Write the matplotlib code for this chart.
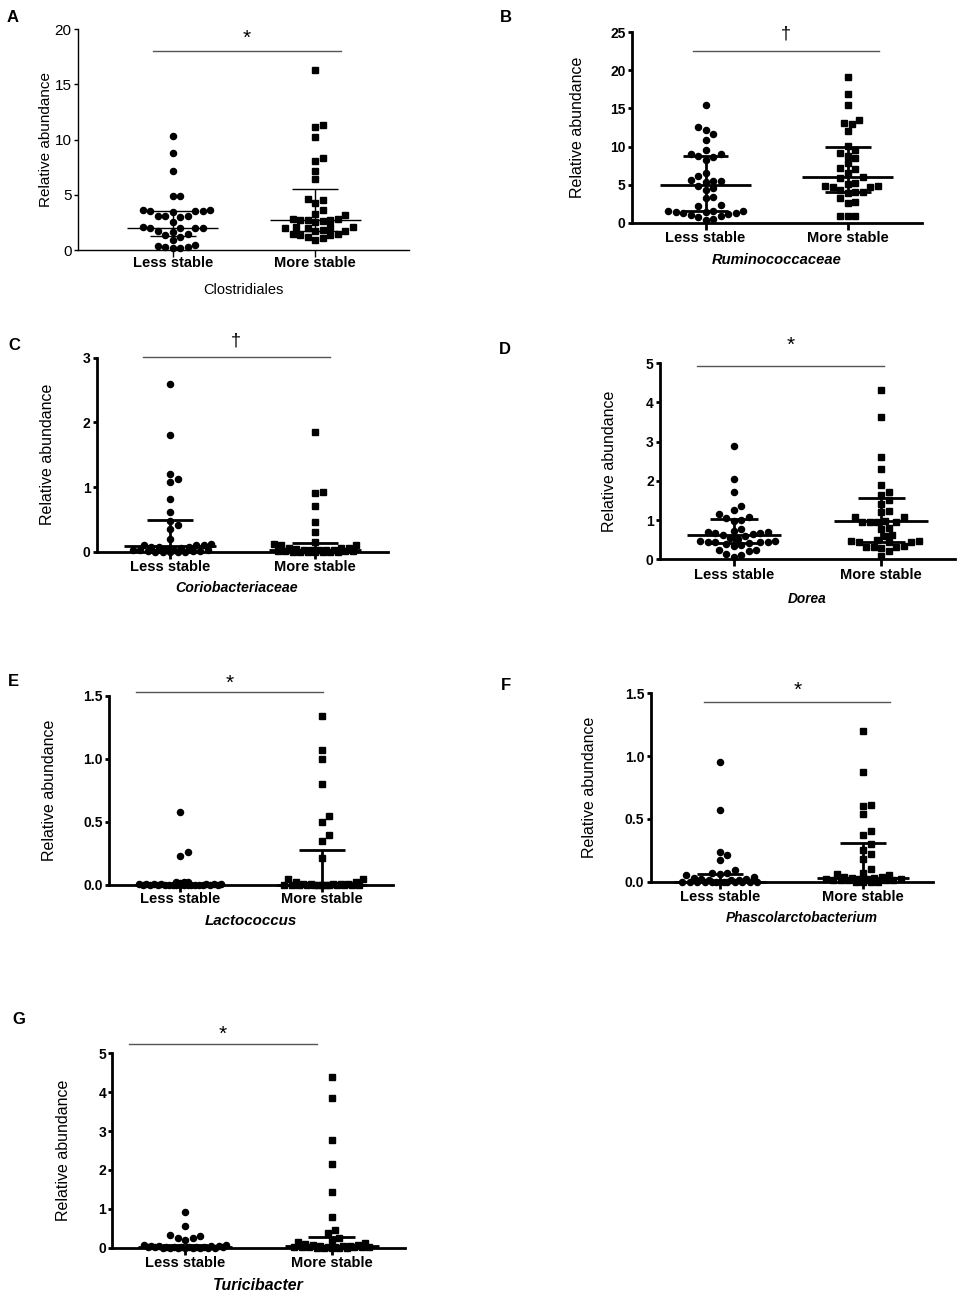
import numpy as np
import matplotlib.pyplot as plt
from matplotlib.ticker import FormatStrFormatter
from matplotlib.transforms import blended_transform_factory

plt.rcParams['font.family'] = ['Liberation Sans', 'DejaVu Sans']

W, H, DPI = 957, 1293, 100
groups = ["Less stable", "More stable"]

# A - Clostridiales
a_less = [10.35, 8.75, 7.2, 4.9, 4.85, 3.6, 3.6, 3.55, 3.55, 3.5, 3.45, 3.1, 3.05, 3.05, 3.0,
          2.55, 2.05, 2.0, 2.0, 2.0, 1.95, 1.75, 1.6, 1.45, 1.4, 1.2, 0.9, 0.45, 0.4, 0.25, 0.25, 0.2, 0.2]
a_more = [16.35, 11.3, 11.15, 10.25, 8.3, 8.05, 7.15, 6.4, 4.6, 4.55, 4.25, 3.6, 3.3, 3.15, 2.8, 2.8,
          2.75, 2.75, 2.7, 2.65, 2.5, 2.1, 2.05, 2.05, 2.0, 1.95, 1.8, 1.75, 1.7, 1.45, 1.45, 1.4,
          1.35, 1.15, 1.1, 0.95]
a_med, a_q1, a_q3 = [2.02, 2.75], [1.27, 1.75], [3.55, 5.5]

# B - Ruminococcaceae
b_less = [15.4, 12.6, 12.2, 11.7, 10.9, 9.6, 9.0, 9.0, 8.8, 8.6, 8.2, 6.5, 6.1, 5.6, 5.5, 5.5, 5.4,
          4.8, 4.5, 4.3, 3.4, 3.3, 2.3, 2.2, 1.6, 1.6, 1.5, 1.4, 1.4, 1.3, 1.3, 1.2, 1.0, 0.9, 0.8,
          0.5, 0.4]
b_more = [19.1, 16.9, 15.4, 13.5, 13.1, 12.9, 12.0, 10.1, 9.6, 9.1, 8.8, 8.5, 7.8, 7.2, 7.1, 6.5,
          6.0, 5.9, 5.2, 5.1, 4.8, 4.8, 4.7, 4.7, 4.3, 4.0, 4.0, 3.9, 3.3, 2.7, 2.6, 0.9, 0.9, 0.85]
b_med, b_q1, b_q3 = [4.9, 6.0], [1.6, 4.0], [8.8, 10.0]

# C - Coriobacteriaceae
c_less = [2.6, 1.8, 1.2, 1.12, 1.08, 0.82, 0.62, 0.48, 0.42, 0.35, 0.2, 0.12, 0.1, 0.1, 0.1, 0.08,
          0.07, 0.07, 0.05, 0.04, 0.03, 0.03, 0.02, 0.02, 0.01, 0.01, 0.01, 0.0, 0.0, 0.0, 0.0, 0.0]
c_more = [1.85, 0.93, 0.9, 0.7, 0.46, 0.3, 0.15, 0.12, 0.1, 0.1, 0.06, 0.05, 0.05, 0.04, 0.03, 0.03,
          0.02, 0.02, 0.02, 0.01, 0.01, 0.01, 0.01, 0.0, 0.0, 0.0, 0.0, 0.0, 0.0, 0.0]
c_med, c_q1, c_q3 = [0.09, 0.03], [0.0, 0.0], [0.49, 0.13]

# D - Dorea
d_less = [2.88, 2.05, 1.72, 1.36, 1.26, 1.16, 1.07, 1.05, 1.0, 0.98, 0.78, 0.72, 0.7, 0.7, 0.68,
          0.66, 0.65, 0.62, 0.6, 0.55, 0.53, 0.47, 0.46, 0.45, 0.45, 0.44, 0.43, 0.42, 0.38, 0.36,
          0.35, 0.25, 0.24, 0.22, 0.14, 0.12, 0.06]
d_more = [4.33, 3.62, 2.6, 2.3, 1.9, 1.72, 1.65, 1.5, 1.4, 1.22, 1.2, 1.08, 1.07, 0.97, 0.96, 0.96,
          0.95, 0.95, 0.8, 0.78, 0.62, 0.6, 0.48, 0.47, 0.46, 0.45, 0.44, 0.43, 0.33, 0.32, 0.32,
          0.31, 0.3, 0.2, 0.08]
d_med, d_q1, d_q3 = [0.62, 0.97], [0.41, 0.45], [1.03, 1.57]

# E - Lactococcus
e_less = [0.58, 0.26, 0.23, 0.02, 0.02, 0.02, 0.015, 0.01, 0.01, 0.01, 0.01, 0.005, 0.005, 0.005,
          0, 0, 0, 0, 0, 0, 0, 0, 0, 0, 0, 0, 0, 0, 0, 0]
e_more = [1.34, 1.07, 1.0, 0.8, 0.55, 0.5, 0.4, 0.35, 0.21, 0.05, 0.05, 0.02, 0.02, 0.01, 0.01, 0.01,
          0.005, 0.005, 0, 0, 0, 0, 0, 0, 0, 0, 0, 0, 0, 0, 0]
e_med, e_q1, e_q3 = [0.0, 0.0], [0.0, 0.0], [0.0, 0.28]

# F - Phascolarctobacterium
f_less = [0.95, 0.57, 0.24, 0.21, 0.17, 0.09, 0.07, 0.07, 0.06, 0.05, 0.04, 0.03, 0.02, 0.02, 0.01,
          0.01, 0.01, 0, 0, 0, 0, 0, 0, 0, 0, 0, 0, 0, 0, 0]
f_more = [1.2, 0.87, 0.61, 0.6, 0.54, 0.4, 0.37, 0.3, 0.25, 0.22, 0.18, 0.1, 0.07, 0.06, 0.05, 0.04,
          0.04, 0.03, 0.03, 0.02, 0.02, 0.02, 0.02, 0.01, 0.01, 0.01, 0.01, 0.01, 0, 0, 0, 0]
f_med, f_q1, f_q3 = [0.0, 0.03], [0.0, 0.0], [0.06, 0.31]

# G - Turicibacter
g_less = [0.93, 0.55, 0.32, 0.29, 0.25, 0.24, 0.21, 0.08, 0.06, 0.05, 0.05, 0.04, 0.04, 0.03, 0.03,
          0.02, 0.02, 0.02, 0.01, 0.01, 0.01, 0.01, 0, 0, 0, 0, 0, 0, 0, 0]
g_more = [4.38, 3.86, 2.78, 2.14, 1.42, 0.8, 0.45, 0.38, 0.25, 0.2, 0.15, 0.12, 0.1, 0.08, 0.08,
          0.05, 0.05, 0.04, 0.03, 0.03, 0.02, 0.02, 0.01, 0.01, 0.01, 0.01, 0, 0, 0, 0, 0]
g_med, g_q1, g_q3 = [0.02, 0.04], [0.0, 0.0], [0.06, 0.27]

panels = [
    dict(letter="A", taxon="Clostridiales", less=a_less, more=a_more, med=a_med, q1=a_q1, q3=a_q3,
         yticks=[0, 5, 10, 15, 20], fmt="%d", sig="*"),
    dict(letter="B", taxon="Ruminococcaceae", less=b_less, more=b_more, med=b_med, q1=b_q1, q3=b_q3,
         yticks=[0, 5, 10, 15, 20, 25], fmt="%d", sig="\u2020"),
    dict(letter="C", taxon="Coriobacteriaceae", less=c_less, more=c_more, med=c_med, q1=c_q1, q3=c_q3,
         yticks=[0, 1, 2, 3], fmt="%d", sig="\u2020"),
    dict(letter="D", taxon="Dorea", less=d_less, more=d_more, med=d_med, q1=d_q1, q3=d_q3,
         yticks=[0, 1, 2, 3, 4, 5], fmt="%d", sig="*"),
    dict(letter="E", taxon="Lactococcus", less=e_less, more=e_more, med=e_med, q1=e_q1, q3=e_q3,
         yticks=[0, 0.5, 1.0, 1.5], fmt="%.1f", sig="*"),
    dict(letter="F", taxon="Phascolarctobacterium", less=f_less, more=f_more, med=f_med, q1=f_q1, q3=f_q3,
         yticks=[0, 0.5, 1.0, 1.5], fmt="%.1f", sig="*"),
    dict(letter="G", taxon="Turicibacter", less=g_less, more=g_more, med=g_med, q1=g_q1, q3=g_q3,
         yticks=[0, 1, 2, 3, 4, 5], fmt="%d", sig="*"),
]

# pixel layout: axes box (left, right, top, bottom), xlim, bracket (x0, x1, y px), mark y px,
# ylabel x px, category y px, taxon (x px or None, y px, size), letter (x, y) px
layout = {
    "A": dict(box=(77.7, 409, 29.3, 250), xlim=(0.33, 2.66), br=(0.86, 2.18, 51), mk=38,
              ylx=46, caty=263, tax=(None, 290, 10.5), let=(7, 17)),
    "B": dict(box=(631.7, 921.7, 32.3, 222.7), xlim=(0.48, 2.52), br=(0.91, 2.22, 50.7), mk=34,
              ylx=578, caty=238, tax=(None, 260, 10.6), let=(500, 17)),
    "C": dict(box=(96.7, 388, 357.7, 551.7), xlim=(0.494, 2.503), br=(0.81, 2.1, 357.3), mk=341,
              ylx=48, caty=567, tax=(236.5, 588, 10.2), let=(8, 345)),
    "D": dict(box=(660, 955, 363.3, 559.3), xlim=(0.497, 2.503), br=(0.75, 2.02, 365.7), mk=345,
              ylx=610, caty=575, tax=(None, 599, 9.8), let=(499, 350)),
    "E": dict(box=(109.3, 392.7, 695.7, 885), xlim=(0.5, 2.5), br=(0.69, 2.01, 692.3), mk=683,
              ylx=50, caty=899, tax=(None, 921, 10.9), let=(8, 682)),
    "F": dict(box=(650.7, 933.3, 693.3, 881.7), xlim=(0.516, 2.49), br=(0.89, 2.19, 702), mk=690,
              ylx=590, caty=897, tax=(802, 918, 9.9), let=(501, 685)),
    "G": dict(box=(112.3, 405, 1053.3, 1247.7), xlim=(0.504, 2.5), br=(0.62, 1.9, 1044.3), mk=1034,
              ylx=63, caty=1263, tax=(None, 1285, 11.4), let=(12, 1020)),
}


def swarm_x(ax, xc, vals, diam=7.5, half_width=44):
    """Beeswarm-style x positions (data units) for one column of points."""
    vals = np.asarray(vals, float)
    disp = ax.transData.transform(np.column_stack([np.full(len(vals), xc), vals]))
    ys = disp[:, 1]
    cands = [0.0]
    k = 1
    while k * diam / 2 <= half_width:
        cands += [k * diam / 2, -k * diam / 2]
        k += 1
    px, py = [], []
    offs = np.zeros(len(vals))
    for i in np.argsort(vals, kind="stable"):
        best, best_d = 0.0, -1.0
        for c in cands:
            d = np.min(np.hypot(np.array(px) - c, np.array(py) - ys[i])) if px else np.inf
            if d >= diam:
                best = c
                break
            if d > best_d:
                best_d, best = d, c
        offs[i] = best
        px.append(best)
        py.append(ys[i])
    disp[:, 0] += offs
    return ax.transData.inverted().transform(disp)[:, 0]


fig = plt.figure(figsize=(W / DPI, H / DPI), dpi=DPI)

for p in panels:
    L = layout[p["letter"]]
    x0, x1, yt, yb = L["box"]
    thin = p["letter"] == "A"
    lw = 1.0 if thin else 2.0
    ax = fig.add_axes([x0 / W, 1 - yb / H, (x1 - x0) / W, (yb - yt) / H])
    ax.set_xlim(*L["xlim"])
    ax.set_ylim(0, p["yticks"][-1])

    for xc, vals, mk, ms in [(1, p["less"], "o", 4.4), (2, p["more"], "s", 4.0)]:
        xs = swarm_x(ax, xc, vals)
        ax.plot(xs, vals, ls="none", marker=mk, ms=ms, color="black", mec="black", clip_on=False, zorder=3)

    mw, cw = 0.32, 0.16
    for j, xc in enumerate([1, 2]):
        ax.hlines(p["med"][j], xc - mw, xc + mw, color="black", lw=lw, zorder=4, clip_on=False)
        if p["q3"][j] > p["q1"][j]:
            ax.hlines([p["q1"][j], p["q3"][j]], xc - cw, xc + cw, color="black", lw=lw, zorder=4, clip_on=False)
            ax.vlines(xc, p["q1"][j], p["q3"][j], color="black", lw=lw, zorder=4)

    for s in ["top", "right"]:
        ax.spines[s].set_visible(False)
    for s in ["left", "bottom"]:
        ax.spines[s].set_linewidth(lw)
    ax.set_yticks(p["yticks"])
    ax.yaxis.set_major_formatter(FormatStrFormatter(p["fmt"]))
    ax.set_xticks([1, 2])
    ax.set_xticklabels([])
    ax.tick_params(axis="y", direction="out", length=3, width=lw, pad=1.5,
                   labelsize=11 if thin else 10)
    ax.tick_params(axis="x", direction="out", length=5, width=lw)
    for t in ax.get_yticklabels():
        t.set_fontweight("normal" if thin else "bold")

    tr = blended_transform_factory(ax.transData, fig.transFigure)
    for xc, g in zip([1, 2], groups):
        ax.text(xc, 1 - L["caty"] / H, g, transform=tr, ha="center", va="center",
                fontsize=10.5, fontweight="bold")
    tx, ty, tsize = L["tax"]
    tx = (x0 + x1) / 2 if tx is None else tx
    fig.text(tx / W, 1 - ty / H, p["taxon"], ha="center", va="center", fontsize=tsize,
             fontstyle="normal" if thin else "italic", fontweight="normal" if thin else "bold")

    ax.set_ylabel("Relative abundance", fontsize=11 if thin else 11.5, va="center")
    ax.yaxis.set_label_coords((L["ylx"] - x0) / (x1 - x0), 0.5)

    bx0, bx1, by = L["br"]
    ax.plot([bx0, bx1], [1 - by / H] * 2, color="#555555", lw=1.0, transform=tr, clip_on=False)
    ax.text((bx0 + bx1) / 2, 1 - L["mk"] / H, p["sig"], transform=tr, ha="center", va="center",
            fontsize=15 if p["sig"] == "*" else 13)

    lx, ly = L["let"]
    fig.text(lx / W, 1 - ly / H, p["letter"], ha="left", va="center", fontsize=12, fontweight="bold")

fig.savefig("out.png", dpi=DPI)
